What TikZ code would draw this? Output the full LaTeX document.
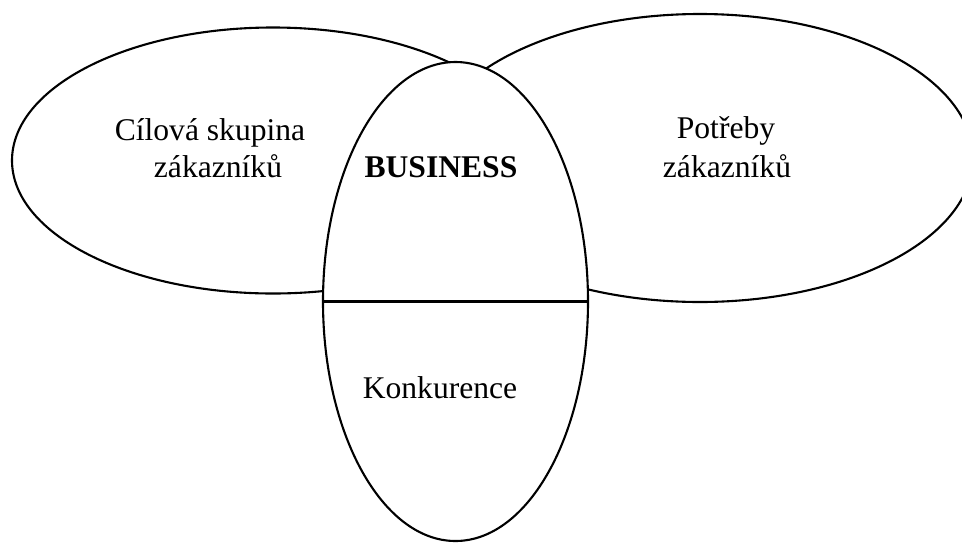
\documentclass[tikz,border=0pt]{standalone}
\usepackage{fontspec}
\setmainfont{Liberation Serif}
\usetikzlibrary{shapes.geometric}
\begin{document}
\begin{tikzpicture}[x=1pt,y=-1pt,
  oval/.style={ellipse, draw=black, line width=2.1pt, inner sep=0pt, fill=white},
  lbl/.style={anchor=base, inner sep=0pt, font=\fontsize{31.6}{38}\selectfont}]
\useasboundingbox (0,0) rectangle (962,542);
\clip (0,0) rectangle (962,542);
\node[oval, minimum width=522pt, minimum height=266pt] (left) at (273,160.5) {};
\node[oval, minimum width=546pt, minimum height=288pt] (right) at (700,158) {};
\node[oval, minimum width=265pt, minimum height=479pt] (mid) at (455.5,301.5) {};
\draw[line width=2.5pt] (mid.west) -- (mid.east);
\node[lbl] (t1a) at (210,140) {Cílová skupina};
\node[lbl] (t1b) at (218,177) {zákazníků};
\node[lbl] (t2a) at (726,138) {Potřeby};
\node[lbl] (t2b) at (727,177) {zákazníků};
\node[lbl, font=\fontsize{31.6}{38}\selectfont\bfseries] (t3) at (441,177) {BUSINESS};
\node[lbl] (t4) at (440,398) {Konkurence};
\end{tikzpicture}
\end{document}
